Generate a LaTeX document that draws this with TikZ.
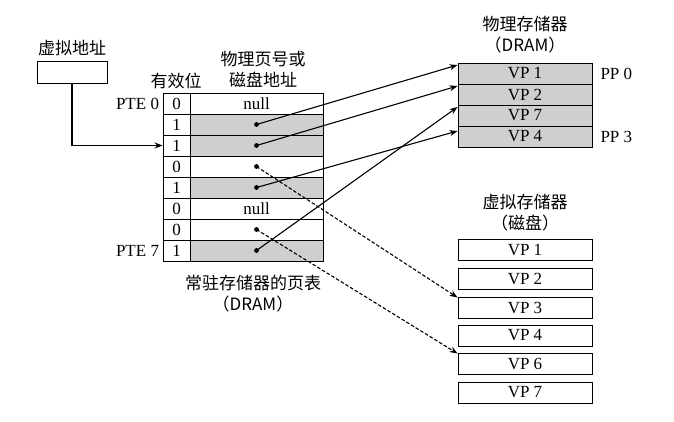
\documentclass[tikz,border=0pt]{standalone}
\usepackage{fontspec}
\setmainfont{Liberation Serif}
\newfontfamily\cjk{Noto Sans CJK SC}
\usepackage{tikz}
\usetikzlibrary{arrows.meta}

\tikzset{
	vcell/.style={draw, line width=0.9pt, minimum width=27pt, minimum height=21pt, inner sep=0pt},
	acell/.style={draw, line width=0.9pt, minimum width=133pt, minimum height=21pt, inner sep=0pt},
	mcell/.style={draw, line width=0.9pt, minimum width=134pt, minimum height=21pt, inner sep=0pt},
	shade/.style={fill=gray!38},
	label/.style={align=center, font=\cjk\fontsize{17}{21}\selectfont},
	ptr/.style={->, >={Stealth[length=8pt,width=6pt]}, line width=1.1pt},
	diskptr/.style={ptr, dash pattern=on 3.5pt off 2pt}
}

\begin{document}
\begin{tikzpicture}[x=1pt,y=-1pt]
		\tikzstyle{every node}=[font=\fontsize{17}{21}\selectfont]
		\useasboundingbox (0,0) rectangle (674,421);

		% virtual address
		\node [label] (valabel) at (72,48) {虚拟地址};
		\node [draw, line width=0.9pt, minimum width=70pt, minimum height=22pt] (va) at (72,72) {};

		% page table
		\node [label] (validlabel) at (176,81) {有效位};
		\node [label] (addrlabel) at (263,69) {物理页号或\\磁盘地址};
		\node [vcell] (v0) at (176.5,103.5) {0};
		\node [acell] (a0) at (256.5,103.5) {null};
		\node [vcell] (v1) at (176.5,124.5) {1};
		\node [acell, shade] (a1) at (256.5,124.5) {};
		\node [vcell] (v2) at (176.5,145.5) {1};
		\node [acell, shade] (a2) at (256.5,145.5) {};
		\node [vcell] (v3) at (176.5,166.5) {0};
		\node [acell] (a3) at (256.5,166.5) {};
		\node [vcell] (v4) at (176.5,187.5) {1};
		\node [acell, shade] (a4) at (256.5,187.5) {};
		\node [vcell] (v5) at (176.5,208.5) {0};
		\node [acell] (a5) at (256.5,208.5) {null};
		\node [vcell] (v6) at (176.5,229.5) {0};
		\node [acell] (a6) at (256.5,229.5) {};
		\node [vcell] (v7) at (176.5,250.5) {1};
		\node [acell, shade] (a7) at (256.5,250.5) {};
		\node [left] (pte0) at (v0.west) {PTE 0};
		\node [left] (pte7) at (v7.west) {PTE 7};
		\node [label] (ptlabel) at (253,294) {常驻存储器的页表\\（DRAM）};

		% physical memory
		\node [label] (pmlabel) at (525,35) {物理存储器\\（DRAM）};
		\node [mcell, shade] (pm1) at (525,73.5) {VP 1};
		\node [mcell, shade] (pm2) at (525,94.5) {VP 2};
		\node [mcell, shade] (pm7) at (525,115.5) {VP 7};
		\node [mcell, shade] (pm4) at (525,136.5) {VP 4};
		\node [right] (pp0) at (597,73.5) {PP 0};
		\node [right] (pp3) at (597,136.5) {PP 3};

		% disk
		\node [label] (dlabel) at (525,213) {虚拟存储器\\（磁盘）};
		\node [mcell] (d1) at (525,250) {VP 1};
		\node [mcell] (d2) at (525,278.5) {VP 2};
		\node [mcell] (d3) at (525,307.5) {VP 3};
		\node [mcell] (d4) at (525,335.5) {VP 4};
		\node [mcell] (d6) at (525,363.5) {VP 6};
		\node [mcell] (d7) at (525,392.5) {VP 7};

		% pointers
		\draw [ptr] (va.south) |- (v2.west);
		\fill (a1.center) circle (2.4pt);
		\fill (a2.center) circle (2.4pt);
		\fill (a3.center) circle (2.4pt);
		\fill (a4.center) circle (2.4pt);
		\fill (a6.center) circle (2.4pt);
		\fill (a7.center) circle (2.4pt);
		\draw [ptr] (a1.center) -- ([yshift=8.5pt]pm1.west);
		\draw [ptr] (a2.center) -- ([yshift=8.5pt]pm2.west);
		\draw [ptr] (a4.center) -- ([yshift=5.5pt]pm4.west);
		\draw [ptr] (a7.center) -- ([yshift=8.5pt]pm7.west);
		\draw [diskptr] (a3.center) -- ([yshift=-1pt]d3.north west);
		\draw [diskptr] (a6.center) -- ([yshift=-1pt]d6.north west);

	\end{tikzpicture}
\end{document}
